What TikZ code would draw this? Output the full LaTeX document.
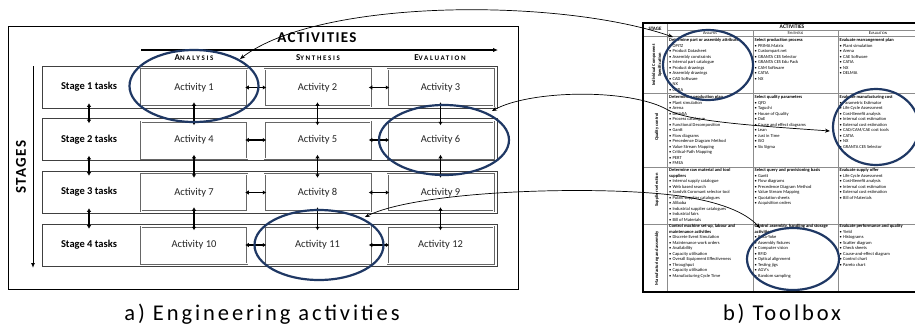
\documentclass[tikz,border=0pt]{standalone}
\usepackage{fontspec}
\setmainfont{Carlito}
\newfontfamily\spacedfont[LetterSpace=24]{Carlito}
\newfontfamily\actfont[LetterSpace=9]{Carlito}
\newfontfamily\capfont[LetterSpace=13]{Carlito}
\usetikzlibrary{shapes.geometric,arrows.meta,calc}
\definecolor{navy}{RGB}{31,56,100}
\newcommand\tbi[1]{\\\makebox[3.4pt][l]{\textbullet}#1}
\newcommand\scap[2]{{\fontsize{9}{9}\selectfont #1}{\fontsize{7}{9}\selectfont #2}}
\newcommand\tscap[2]{{\fontsize{4.4}{5}\selectfont #1}{\fontsize{3.5}{5}\selectfont #2}}
\tikzset{
  rowbox/.style={draw=black!75, line width=0.6pt, minimum width=455pt, minimum height=42pt, inner sep=0pt},
  actbox/.style={draw=black!60, double=white, double distance=1pt, line width=0.5pt, minimum width=106pt, minimum height=37pt, inner sep=0pt, font=\fontsize{10.5}{12}\selectfont, text=black!85},
  stagelbl/.style={font=\bfseries\fontsize{10.5}{12}\selectfont, inner sep=0pt},
  varrow/.style={line width=1.4pt, {Latex[length=3.5pt,width=4.5pt]}-{Latex[length=3.5pt,width=4.5pt]}},
  ring/.style={ellipse, draw=navy, line width=2.2pt, inner sep=0pt},
  link/.style={line width=0.7pt, {Stealth[length=5pt,width=4pt]}-{Stealth[length=5pt,width=4pt]}},
  cell/.style={anchor=north west, inner sep=0pt, align=left, font=\fontsize{4.5}{5.5}\selectfont},
  tline/.style={draw=black!45, line width=0.4pt},
  rlabel/.style={rotate=90, align=center, inner sep=0pt, font=\bfseries\fontsize{4.5}{6}\selectfont},
  caption/.style={inner sep=0pt, font=\capfont\fontsize{22.5}{24}\selectfont},
}
\begin{document}
\begin{tikzpicture}[x=1pt,y=-1pt]
\useasboundingbox (0,0) rectangle (915,327);
\clip (0,0) rectangle (915,327);
\fill[white] (0,0) rectangle (915,327);

% ---------------- a) Engineering activities ----------------
\draw[line width=0.8pt] (8,26) rectangle (518,289);
\node[inner sep=0pt, font=\actfont\bfseries\fontsize{15}{16}\selectfont] (acttitle) at (317,38) {ACTIVITIES};
\coordinate (actL) at (141,50);
\coordinate (actR) at (498,50);
\draw[line width=1.5pt, -{Latex[length=5pt,width=4.5pt]}] (actL) -- (actR);
\node[inner sep=0pt, font=\spacedfont\bfseries] (hA) at (194,58) {\scap{A}{NALYSIS}};
\node[inner sep=0pt, font=\spacedfont\bfseries] (hS) at (318,58) {\scap{S}{YNTHESIS}};
\node[inner sep=0pt, font=\spacedfont\bfseries] (hE) at (440,58) {\scap{E}{VALUATION}};

\coordinate (stT) at (33,66);
\coordinate (stB) at (33,268);
\draw[line width=1pt, -{Latex[length=5pt,width=4pt]}] (stT) -- (stB);
\node[rotate=90, inner sep=0pt, font=\actfont\bfseries\fontsize{15}{16}\selectfont] (stages) at (21,167) {STAGES};

\foreach \i/\y in {1/87,2/139.5,3/192,4/245}{
  \node[rowbox] (r\i) at (269.5,\y) {};
  \node[stagelbl] (s\i) at (89,\y) {Stage \i{} tasks};
}
\foreach \n/\x/\y in {1/194/87.5,2/317.5/87.5,3/440.5/87.5,
                      4/194/140,5/317.5/140,6/440.5/140,
                      7/194/192.5,8/317.5/192.5,9/440.5/192.5,
                      10/194/245,11/317.5/245,12/440.5/245}{
  \node[actbox] (a\n) at (\x,\y) {Activity \n};
}
% vertical arrows
\foreach \i/\j in {1/2,2/3,3/4}{
  \draw[varrow, shorten <=-5pt, shorten >=-5pt] (s\i |- r\i.south) -- (s\i |- r\j.north);
}
\foreach \u/\v in {1/4,4/7,7/10,2/5,5/8,8/11,3/6,6/9,9/12}{
  \draw[varrow, shorten <=-4pt, shorten >=-4pt] (a\u) -- (a\v);
}
% horizontal arrows
\foreach \u/\v in {1/2,2/3,4/5,5/6,7/8,8/9,10/11,11/12}{
  \draw[varrow, shorten <=-2pt, shorten >=-2pt] (a\u) -- (a\v);
}
% rings
\node[ring, minimum width=129pt, minimum height=72pt] (e1) at (194,86) {};
\node[ring, minimum width=130pt, minimum height=70pt] (e6) at (444,140) {};
\node[ring, minimum width=129pt, minimum height=70pt] (e11) at (319,245) {};

\node[caption] (capa) at (262,314) {a) Engineering activities};

% ---------------- b) Toolbox ----------------
\draw[tline] (667,30) -- (917,30);
\draw[tline] (643,36.5) -- (917,36.5);
\draw[tline] (667,23) -- (667,292);
\draw[tline] (753,30) -- (753,292);
\draw[tline] (838,30) -- (838,292);
\foreach \y in {93,167,224}{\draw[tline] (643,\y) -- (917,\y);}
\draw[line width=1.2pt] (643,23) rectangle (917,292);

\node[inner sep=0pt, font=\bfseries\fontsize{5}{6}\selectfont] (tstage) at (655,29) {STAGE};
\node[inner sep=0pt, font=\bfseries\fontsize{5.5}{6}\selectfont] (tact) at (792,26.6) {ACTIVITIES};
\node[inner sep=0pt] (tA) at (710,33.3) {\tscap{A}{NALYSIS}};
\node[inner sep=0pt] (tS) at (795.5,33.3) {\tscap{S}{YNTHESIS}};
\node[inner sep=0pt] (tE) at (878,33.3) {\tscap{E}{VALUATION}};

\node[rlabel] (l1) at (657,65) {Individual Component\\Specification};
\node[rlabel] (l2) at (657,127) {Quality control};
\node[rlabel] (l3) at (657,190) {Supplier selection};
\node[rlabel] (l4) at (657,258) {Manufacturing and assembly};

\node[cell] (c11) at (669,38.6) {\textbf{Determine part or assembly attributes}\tbi{OPITZ}\tbi{Product Datasheet}\tbi{Assembly constraints}\tbi{Internal part catalogue}\tbi{Product drawings}\tbi{Assembly drawings}\tbi{CAD Software}\tbi{NX}\tbi{CATIA}};
\node[cell] (c12) at (754.5,38.6) {\textbf{Select production process}\tbi{PRIMA Matrix}\tbi{Custompart.net}\tbi{GRANTA CES Selector}\tbi{GRANTA CES Edu Pack}\tbi{CAM Software}\tbi{CATIA}\tbi{NX}};
\node[cell] (c13) at (839.5,38.6) {\textbf{Evaluate rearrangement plan}\tbi{Plant simulation}\tbi{Arena}\tbi{CAE Software}\tbi{CATIA}\tbi{NX}\tbi{DELMIA}};

\node[cell] (c21) at (669,95.2) {\textbf{Determine a production plan}\tbi{Plant simulation}\tbi{Arena}\tbi{DELMIA}\tbi{Process catalogue}\tbi{Functional Decomposition}\tbi{Gantt}\tbi{Flow diagrams}\tbi{Precedence Diagram Method}\tbi{Value Stream Mapping}\tbi{Critical-Path Mapping}\tbi{PERT}\tbi{FMEA}};
\node[cell] (c22) at (754.5,95.2) {\textbf{Select quality parameters}\tbi{QFD}\tbi{Taguchi}\tbi{House of Quality}\tbi{DoE}\tbi{Cause and effect diagrams}\tbi{Lean}\tbi{Just in Time}\tbi{ISO}\tbi{Six Sigma}};
\node[cell] (c23) at (839.5,95.2) {\textbf{Evaluate manufacturing cost}\tbi{Parametric Estimator}\tbi{Life Cycle Assessment}\tbi{Cost-Benefit analysis}\tbi{Internal cost estimation}\tbi{External cost estimation}\tbi{CAD/CAM/CAE cost tools}\tbi{CATIA}\tbi{NX}\tbi{GRANTA CES Selector}};

\node[cell] (c31) at (669,168.6) {\textbf{Determine raw material and tool}\\\textbf{suppliers}\tbi{Internal supply catalogue}\tbi{Web based search}\tbi{Sandvik Coromant selector tool}\tbi{Public supplier catalogues}\tbi{Alibaba}\tbi{Industrial supplier catalogues}\tbi{Industrial fairs}\tbi{Bill of Materials}};
\node[cell] (c32) at (754.5,168.6) {\textbf{Select query and provisioning basis}\tbi{Gantt}\tbi{Flow diagrams}\tbi{Precedence Diagram Method}\tbi{Value Stream Mapping}\tbi{Quotation sheets}\tbi{Acquisition orders}};
\node[cell] (c33) at (839.5,168.6) {\textbf{Evaluate supply offer}\tbi{Life Cycle Assessment}\tbi{Cost-Benefit analysis}\tbi{Internal cost estimation}\tbi{External cost estimation}\tbi{Bill of Materials}};

\node[cell] (c41) at (669,224.6) {\textbf{Control machine set-up, labour and}\\\textbf{maintenance activities}\tbi{Discrete Event Simulation}\tbi{Maintenance work orders}\tbi{Availability}\tbi{Capacity utilisation}\tbi{Overall Equipment Effectiveness}\tbi{Throughput}\tbi{Capacity utilisation}\tbi{Manufacturing Cycle Time}};
\node[cell] (c42) at (754.5,224.6) {\textbf{Control assembly, handling and storage}\\\textbf{activities}\tbi{Poka-Yoke}\tbi{Assembly fixtures}\tbi{Computer vision}\tbi{RFID}\tbi{Optical alignment}\tbi{Testing jigs}\tbi{AGV's}\tbi{Random sampling}};
\node[cell] (c43) at (839.5,224.6) {\textbf{Evaluate performance and quality}\tbi{Yield}\tbi{Histograms}\tbi{Scatter diagram}\tbi{Check sheets}\tbi{Cause-and-effect diagram}\tbi{Control chart}\tbi{Pareto chart}};

\node[ring, minimum width=90pt, minimum height=70pt] (t1) at (708,65) {};
\node[ring, minimum width=86pt, minimum height=76pt] (t6) at (876,127) {};
\node[ring, minimum width=92pt, minimum height=62pt] (t11) at (793,259) {};

\node[caption] (capb) at (782,314) {b) Toolbox};

% ---------------- links ----------------
\coordinate (p1a) at (240,59);
\coordinate (p1b) at (673,37);
\draw[link] (p1a) .. controls (320,-2) and (560,-2) .. (p1b);
\coordinate (p2a) at (492,111);
\coordinate (p2m) at (668,110);
\coordinate (p2b) at (830,131);
\draw[link] (p2a) .. controls (530,90) and (630,88) .. (p2m) .. controls (690,122) and (760,126) .. (p2b);
\coordinate (p3a) at (365,217);
\coordinate (p3m) at (680,196);
\coordinate (p3b) at (760,228);
\draw[link] (p3a) .. controls (420,190) and (600,185) .. (p3m) .. controls (720,202) and (745,212) .. (p3b);
\end{tikzpicture}
\end{document}
